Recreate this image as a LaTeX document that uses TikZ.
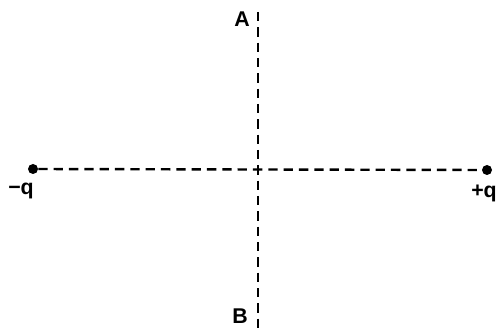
\documentclass[tikz,border=0pt]{standalone}
\usepackage{fontspec}
\setmainfont{Liberation Sans}
\begin{document}
\begin{tikzpicture}[x=0.75pt,y=-0.75pt,
  axis/.style={line width=1.8pt, dash pattern=on 7pt off 4.5pt},
  charge/.style={circle, fill=black, inner sep=0pt, minimum size=7.5pt},
  lbl/.style={font=\fontsize{16}{19}\selectfont\bfseries, inner sep=0pt}]
\useasboundingbox (0,0) rectangle (499,331);
\node[charge] (qm) at (33,169) {};
\node[charge] (qp) at (487,170) {};
\coordinate (top) at (258,12);
\coordinate (bot) at (258,331);
\draw[axis] (qm) -- (qp);
\draw[axis] (top) -- (bot);
\node[lbl] (lqm) at (21,191) {−q};
\node[lbl] (lqp) at (484,193) {+q};
\node[lbl] (lA) at (242,19) {A};
\node[lbl] (lB) at (240,316) {B};
\end{tikzpicture}
\end{document}
